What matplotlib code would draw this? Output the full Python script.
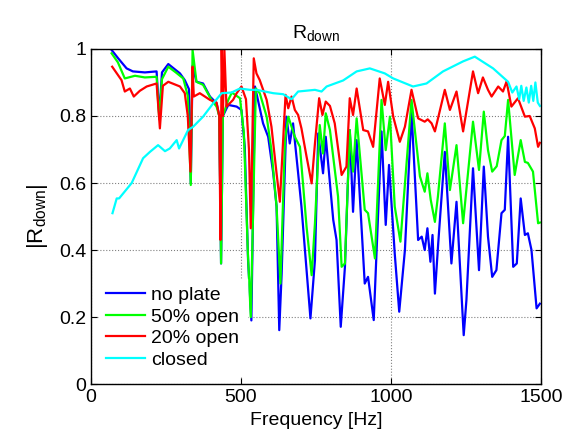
import matplotlib
matplotlib.use('Agg')
import matplotlib.pyplot as plt
import numpy as np

plt.rcParams['font.family'] = 'Liberation Sans'
plt.rcParams['mathtext.fontset'] = 'custom'
plt.rcParams['mathtext.rm'] = 'Liberation Sans'
plt.rcParams['mathtext.it'] = 'Liberation Sans'

# no plate
freqNoPlate = [69, 91, 119, 140, 180, 219, 228, 237, 258, 297, 313, 327, 333, 339, 352, 374, 397, 419, 428, 434, 440,
               458, 486, 502, 513, 524, 535, 547, 574, 591, 608, 619, 628, 636, 652, 663, 674, 691, 702, 732, 747,
               758, 774, 783, 808, 819, 833, 847, 863, 874, 886, 913, 924, 943, 969, 983, 994, 1013, 1028, 1047,
               1069, 1091, 1103, 1113, 1122, 1132, 1139, 1147, 1158, 1180, 1202, 1219, 1243, 1252, 1274, 1294,
               1310, 1324, 1338, 1352, 1369, 1380, 1391, 1408, 1420, 1433, 1447, 1457, 1469, 1486, 1497]
noPlate = [0.997, 0.972, 0.942, 0.933, 0.93, 0.933, 0.80, 0.93, 0.955, 0.927, 0.907, 0.88, 0.60, 0.95, 0.902, 0.897,
           0.858, 0.838, 0.80, 0.36, 0.80, 0.833, 0.828, 0.818, 0.708, 0.37, 0.19, 0.888, 0.778, 0.738, 0.629,
           0.53, 0.161, 0.33, 0.798, 0.718, 0.778, 0.629, 0.53, 0.196, 0.37, 0.748, 0.629, 0.738, 0.49, 0.43,
           0.171, 0.35, 0.758, 0.514, 0.728, 0.30, 0.32, 0.191, 0.754, 0.475, 0.654, 0.39, 0.216, 0.40, 0.813,
           0.43, 0.44, 0.40, 0.465, 0.365, 0.445, 0.27, 0.42, 0.693, 0.36, 0.544, 0.146, 0.25, 0.644, 0.34,
           0.649, 0.44, 0.32, 0.34, 0.51, 0.52, 0.738, 0.35, 0.36, 0.554, 0.445, 0.45, 0.40, 0.226, 0.24]

# 50% open
freq50 = [69, 90, 113, 147, 180, 219, 228, 237, 258, 283, 308, 323, 333, 339, 352, 374, 402, 419, 428, 434, 440, 458,
          470, 497, 510, 523, 533, 550, 563, 586, 602, 619, 632, 647, 658, 669, 680, 697, 719, 736, 747, 763, 774,
          783, 797, 824, 836, 847, 863, 874, 886, 913, 924, 947, 969, 983, 997, 1013, 1032, 1069, 1097, 1113,
          1122, 1133, 1147, 1157, 1180, 1197, 1219, 1241, 1274, 1294, 1310, 1324, 1338, 1353, 1369, 1380, 1391,
          1413, 1433, 1447, 1457, 1474, 1491, 1497]
open50 = [0.987, 0.96, 0.912, 0.92, 0.915, 0.917, 0.79, 0.91, 0.947, 0.93, 0.912, 0.86, 0.594, 0.997, 0.902, 0.893,
          0.848, 0.828, 0.80, 0.36, 0.80, 0.848, 0.87, 0.853, 0.75, 0.40, 0.20, 0.882, 0.868, 0.798, 0.698, 0.53,
          0.30, 0.728, 0.798, 0.768, 0.738, 0.708, 0.47, 0.325, 0.48, 0.773, 0.688, 0.808, 0.758, 0.56, 0.35,
          0.36, 0.758, 0.634, 0.793, 0.52, 0.51, 0.375, 0.848, 0.698, 0.798, 0.53, 0.425, 0.848, 0.62, 0.574,
          0.629, 0.55, 0.484, 0.56, 0.778, 0.579, 0.713, 0.48, 0.783, 0.639, 0.813, 0.698, 0.634, 0.65, 0.728,
          0.74, 0.848, 0.624, 0.728, 0.663, 0.66, 0.634, 0.48, 0.482]

# 20% open
freq20 = [71, 102, 113, 130, 143, 163, 186, 219, 230, 240, 258, 297, 313, 323, 332, 339, 343, 363, 397, 419, 428,
          432, 436, 440, 445, 452, 474, 486, 502, 517, 527, 533, 543, 552, 563, 586, 602, 619, 630, 641, 649, 658,
          669, 680, 691, 702, 719, 736, 747, 761, 772, 783, 797, 813, 836, 852, 863, 874, 886, 908, 924, 941, 963,
          980, 991, 1008, 1030, 1047, 1069, 1091, 1113, 1123, 1136, 1147, 1180, 1197, 1219, 1241, 1274, 1291,
          1307, 1324, 1336, 1358, 1374, 1386, 1402, 1424, 1447, 1463, 1480, 1491, 1497]
open20 = [0.947, 0.907, 0.873, 0.882, 0.858, 0.875, 0.888, 0.897, 0.763, 0.89, 0.902, 0.888, 0.868, 0.80, 0.634,
          0.947, 0.858, 0.868, 0.848, 0.84, 0.80, 0.43, 1.0, 0.80, 1.0, 0.828, 0.848, 0.868, 0.888, 0.85, 0.70,
          0.465, 0.972, 0.927, 0.907, 0.848, 0.768, 0.629, 0.544, 0.728, 0.863, 0.823, 0.858, 0.818, 0.803,
          0.763, 0.679, 0.599, 0.718, 0.853, 0.803, 0.843, 0.83, 0.778, 0.624, 0.649, 0.853, 0.803, 0.882,
          0.758, 0.754, 0.708, 0.912, 0.833, 0.902, 0.798, 0.723, 0.768, 0.878, 0.793, 0.783, 0.79, 0.778,
          0.754, 0.878, 0.818, 0.873, 0.754, 0.933, 0.868, 0.915, 0.878, 0.858, 0.888, 0.873, 0.903, 0.828,
          0.853, 0.798, 0.80, 0.763, 0.708, 0.72]

# closed
freqClosed = [72, 86, 94, 136, 174, 197, 224, 247, 263, 286, 294, 324, 341, 374, 408, 436, 469, 497, 530, 552, 608,
              641, 669, 691, 747, 769, 786, 841, 886, 930, 980, 1008, 1074, 1119, 1174, 1241, 1280, 1341, 1391,
              1405, 1419, 1428, 1435, 1443, 1452, 1460, 1468, 1475, 1482, 1490, 1497]
closed = [0.51, 0.554, 0.554, 0.60, 0.674, 0.693, 0.713, 0.695, 0.703, 0.728, 0.703, 0.758, 0.768, 0.798, 0.838,
          0.868, 0.870, 0.882, 0.878, 0.878, 0.868, 0.865, 0.85, 0.873, 0.878, 0.873, 0.888, 0.906, 0.933, 0.942,
          0.927, 0.912, 0.888, 0.897, 0.933, 0.963, 0.977, 0.942, 0.902, 0.87, 0.888, 0.85, 0.89, 0.845, 0.885,
          0.84, 0.89, 0.845, 0.90, 0.84, 0.83]

fig = plt.figure(figsize=(5.79, 4.41), dpi=100)
ax = fig.add_axes([0.157, 0.129, 0.777, 0.760])

ax.plot(freqNoPlate, noPlate, color='#0000ff', linewidth=1.6, label='no plate')
ax.plot(freq50, open50, color='#00ff00', linewidth=1.6, label='50% open')
ax.plot(freq20, open20, color='#ff0000', linewidth=1.6, label='20% open')
ax.plot(freqClosed, closed, color='#00ffff', linewidth=1.6, label='closed')

ax.set_xlim(0, 1500)
ax.set_ylim(0, 1)
ax.set_xticks([0, 500, 1000, 1500])
ax.set_yticks([0, 0.2, 0.4, 0.6, 0.8, 1])
ax.set_yticklabels(['0', '0.2', '0.4', '0.6', '0.8', '1'])
ax.grid(True, linestyle=':', color='#808080', linewidth=0.8)
ax.tick_params(direction='in', top=True, right=True, labelsize=14, length=4)
for s in ax.spines.values():
    s.set_linewidth(1.0)

ax.set_xlabel('Frequency [Hz]', fontsize=14, labelpad=4)
ax.set_ylabel(r'$|\mathrm{R}_{\mathrm{down}}|$', fontsize=16, labelpad=6)
ax.set_title(r'$\mathrm{R}_{\mathrm{down}}$', fontsize=14, pad=8)

leg = ax.legend(loc='lower left', fontsize=14, frameon=True, handlelength=2.0,
                handletextpad=0.3, labelspacing=0.2, borderaxespad=0.4, fancybox=False)
leg.get_frame().set_edgecolor('white')
leg.get_frame().set_alpha(1.0)

fig.savefig('out.png', dpi=100)
